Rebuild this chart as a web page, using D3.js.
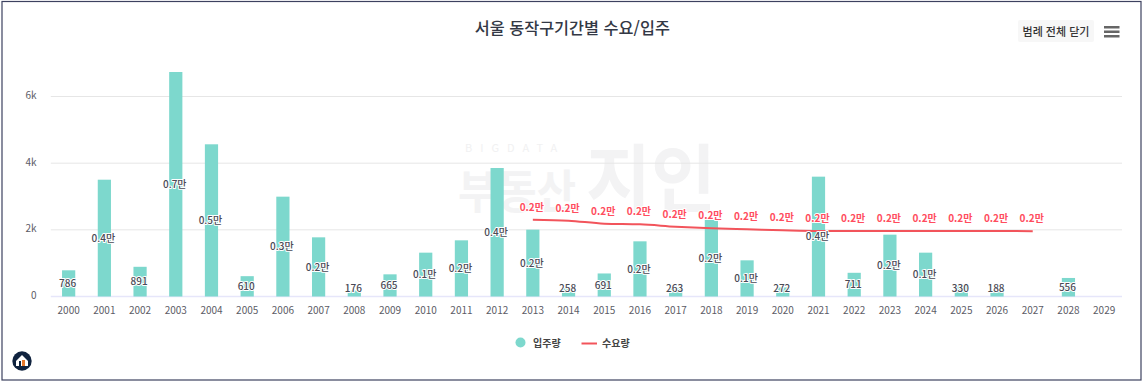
<!DOCTYPE html>
<html lang="ko">
<head>
    <meta charset="UTF-8">
    <script src="https://d3js.org/d3.v7.min.js"></script>
    <style>
        html, body { margin: 0; padding: 0; background: #fff; overflow: hidden; }
        svg { display: block; font-family: "Noto Sans CJK KR", "Noto Sans", sans-serif; }
        .axis path { display: none; }
        .axis line { display: none; }
        .axis text { font-size: 10px; fill: #5c5c66; font-family: "Noto Sans CJK KR", sans-serif; }
        .bar-label { font-size: 10px; font-weight: 500; fill: #4a4a55; text-anchor: middle;
            stroke: #fff; stroke-width: 2px; paint-order: stroke; stroke-linejoin: round; }
        .line-label { font-size: 10px; font-weight: 700; fill: #ff4d5e; text-anchor: middle;
            stroke: #fff; stroke-width: 2px; paint-order: stroke; stroke-linejoin: round; }
        .legend-text { font-size: 10px; font-weight: 700; fill: #444; }
    </style>
</head>
<body>
    <svg id="chart"></svg>
    <script>
        const years = d3.range(2000, 2030).map(String);
        const supply = [786, 3504, 891, 6735, 4566, 610, 2995, 1775, 176, 665,
            1315, 1685, 3855, 2005, 258, 691, 1655, 263, 2305, 1085,
            272, 3595, 711, 1855, 1315, 330, 188, 0, 556, 0];
        const demand = [null, null, null, null, null, null, null, null, null, null,
            null, null, null, 2305, 2275, 2185, 2165, 2095, 2045, 2015,
            1985, 1965, 1965, 1965, 1965, 1965, 1965, 1960, null, null];
        const yTicks = [0, 2000, 4000, 6000];

        const width = 1143;
        const height = 383;
        const margin = { left: 50.8, right: 21, bottom: 86.5 };
        const baseY = height - margin.bottom;

        const svg = d3.select("#chart").attr("width", width).attr("height", height);

        // frame
        svg.append("rect")
            .attr("x", 2).attr("y", 1.5).attr("width", 1139).attr("height", 378.5)
            .attr("fill", "#fff").attr("stroke", "#3d4160").attr("stroke-width", 1.2);

        const x = d3.scaleBand()
            .domain(years)
            .range([margin.left, width - margin.right])
            .paddingInner(0.63)
            .paddingOuter(0.315);

        const y = d3.scaleLinear()
            .domain([0, 6000])
            .range([baseY, 96.5]);

        const cx = d => x(d) + x.bandwidth() / 2;

        // watermark
        const mark = svg.append("g").attr("fill", "#f3f3f4");
        mark.append("text").attr("x", 465).attr("y", 152)
            .attr("font-size", 11).attr("letter-spacing", "8px").attr("fill", "#f1f1f2").text("BIGDATA");
        mark.append("text").attr("x", 458).attr("y", 208)
            .attr("font-size", 46).attr("font-weight", 700)
            .attr("textLength", 118).attr("lengthAdjust", "spacingAndGlyphs").text("부동산");
        mark.append("text").attr("x", 586).attr("y", 206)
            .attr("font-size", 74).attr("font-weight", 700)
            .attr("textLength", 130).attr("lengthAdjust", "spacingAndGlyphs").text("지인");

        // grid
        svg.append("g").selectAll("line")
            .data(yTicks.filter(d => d > 0))
            .enter().append("line")
            .attr("x1", margin.left).attr("x2", width - margin.right)
            .attr("y1", d => y(d)).attr("y2", d => y(d))
            .attr("stroke", "#e6e6e6").attr("stroke-width", 1);

        svg.append("line")
            .attr("x1", margin.left).attr("x2", width - margin.right)
            .attr("y1", baseY).attr("y2", baseY)
            .attr("stroke", "#e6e6fa").attr("stroke-width", 1.5);

        // axes
        svg.append("g").attr("class", "axis")
            .attr("transform", `translate(0,${baseY + 4.5})`)
            .call(d3.axisBottom(x).tickSize(0).tickPadding(6));

        svg.append("g").attr("class", "axis")
            .attr("transform", "translate(36.5,-1.2)")
            .call(d3.axisLeft(y).tickValues(yTicks).tickSize(0).tickPadding(0)
                .tickFormat(d => d === 0 ? "0" : (d / 1000) + "k"));

        // bars
        const rows = years.map((year, i) => ({ year, supply: supply[i], demand: demand[i] }));

        svg.selectAll(".bar")
            .data(rows)
            .enter().append("rect")
            .attr("class", "bar")
            .attr("x", d => x(d.year))
            .attr("y", d => y(d.supply))
            .attr("width", x.bandwidth())
            .attr("height", d => baseY - y(d.supply))
            .attr("fill", "#7dd8cd");

        // demand line
        const demandRows = rows.filter(d => d.demand !== null);
        svg.append("path")
            .datum(demandRows)
            .attr("fill", "none")
            .attr("stroke", "#f2545b")
            .attr("stroke-width", 2)
            .attr("d", d3.line().x(d => cx(d.year)).y(d => y(d.demand)).curve(d3.curveMonotoneX));

        const fmt = v => v < 1000 ? String(v) : (v / 10000).toFixed(1) + "만";

        svg.selectAll(".bar-label")
            .data(rows.filter(d => d.supply > 0))
            .enter().append("text")
            .attr("class", "bar-label")
            .attr("x", d => cx(d.year) - 1)
            .attr("y", d => Math.min((y(d.supply) + baseY) / 2, 288))
            .attr("dy", "0.36em")
            .text(d => fmt(d.supply));

        svg.selectAll(".line-label")
            .data(demandRows)
            .enter().append("text")
            .attr("class", "line-label")
            .attr("x", d => cx(d.year) - 1)
            .attr("y", d => y(d.demand) - 12.5)
            .attr("dy", "0.36em")
            .text(d => fmt(d.demand));

        // title
        svg.append("text")
            .attr("x", 572.3).attr("y", 33.5)
            .attr("text-anchor", "middle")
            .attr("font-size", 16.3).attr("font-weight", 500).attr("fill", "#333845")
            .text("서울 동작구기간별 수요/입주");

        // button and menu
        svg.append("rect")
            .attr("x", 1018).attr("y", 20).attr("width", 76).attr("height", 22).attr("rx", 2)
            .attr("fill", "#f7f7f7");
        svg.append("text")
            .attr("x", 1056).attr("y", 35.5).attr("text-anchor", "middle")
            .attr("font-size", 11).attr("font-weight", 500).attr("fill", "#333")
            .text("범례 전체 닫기");
        svg.append("g").selectAll("rect")
            .data([26, 30.5, 35])
            .enter().append("rect")
            .attr("x", 1104).attr("y", d => d).attr("width", 15.5).attr("height", 2.5)
            .attr("fill", "#666");

        // legend
        svg.append("circle").attr("cx", 520.5).attr("cy", 342.5).attr("r", 5).attr("fill", "#7dd8cd");
        svg.append("text").attr("class", "legend-text").attr("x", 533).attr("y", 346.5).text("입주량");
        svg.append("line").attr("x1", 581.5).attr("x2", 597).attr("y1", 343.5).attr("y2", 343.5)
            .attr("stroke", "#f2545b").attr("stroke-width", 2);
        svg.append("text").attr("class", "legend-text").attr("x", 602).attr("y", 346.5).text("수요량");

        // logo
        const logo = svg.append("g").attr("transform", "translate(22,361)");
        logo.append("circle").attr("r", 9.7).attr("fill", "#10233f");
        logo.append("path").attr("d", "M-6 0 L0 -6 L6 0 V5 H-6 Z").attr("fill", "#fff");
        logo.append("rect").attr("x", -3).attr("y", 0).attr("width", 2).attr("height", 5).attr("fill", "#10233f");
        logo.append("rect").attr("x", 0).attr("y", -1).attr("width", 3).attr("height", 6).attr("fill", "#e8792b");
    </script>
</body>
</html>
